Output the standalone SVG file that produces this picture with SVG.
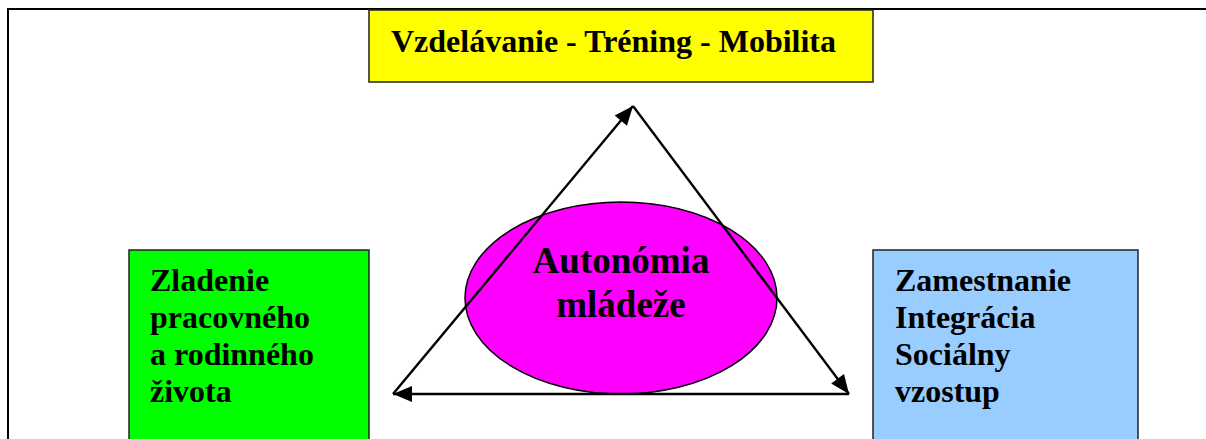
<svg xmlns="http://www.w3.org/2000/svg" width="1206" height="439" viewBox="0 0 1206 439">
<style>
.box{stroke:#222;stroke-width:1.5}
.t{font-family:"Liberation Serif","Times New Roman",serif;font-weight:bold;font-size:32px;fill:#000}
.conn{stroke:#000;stroke-width:2.4;fill:none}
</style>
<defs>
<marker id="arr" markerUnits="userSpaceOnUse" markerWidth="22" markerHeight="18" refX="19" refY="8" orient="auto" overflow="visible">
<path d="M0,0 L19,8 L0,16 Z" fill="#000"/>
</marker>
</defs>
<rect width="1206" height="439" fill="#fff"/>
<g id="frame">
<path d="M8,9 H1206 M8,8 V439" stroke="#000" stroke-width="2" fill="none"/>
</g>
<g id="node-top">
<rect class="box" x="369" y="10" width="504" height="72" fill="#ffff00"/>
<text class="t" x="391" y="52">Vzdelávanie - Tréning - Mobilita</text>
</g>
<g id="node-left">
<rect class="box" x="129" y="250" width="240" height="200" fill="#00ff00"/>
<text class="t" x="150" y="291">Zladenie</text>
<text class="t" x="150" y="328">pracovného</text>
<text class="t" x="150" y="365">a rodinného</text>
<text class="t" x="150" y="402">života</text>
</g>
<g id="node-right">
<rect class="box" x="873" y="250" width="265" height="200" fill="#99ccff"/>
<text class="t" x="895" y="291">Zamestnanie</text>
<text class="t" x="895" y="328">Integrácia</text>
<text class="t" x="895" y="365">Sociálny</text>
<text class="t" x="895" y="402">vzostup</text>
</g>
<g id="node-center">
<ellipse cx="621" cy="298" rx="156" ry="96" fill="#ff00ff" stroke="#000" stroke-width="1.5"/>
<text class="t" x="621" y="273" text-anchor="middle" style="font-size:37px">Autonómia</text>
<text class="t" x="621" y="317" text-anchor="middle" style="font-size:37px">mládeže</text>
</g>
<g id="connectors">
<line class="conn" x1="393" y1="394" x2="633" y2="106" marker-end="url(#arr)"/>
<line class="conn" x1="633" y1="106" x2="849" y2="394" marker-end="url(#arr)"/>
<line class="conn" x1="849" y1="394" x2="393" y2="394" marker-end="url(#arr)"/>
</g>
</svg>
